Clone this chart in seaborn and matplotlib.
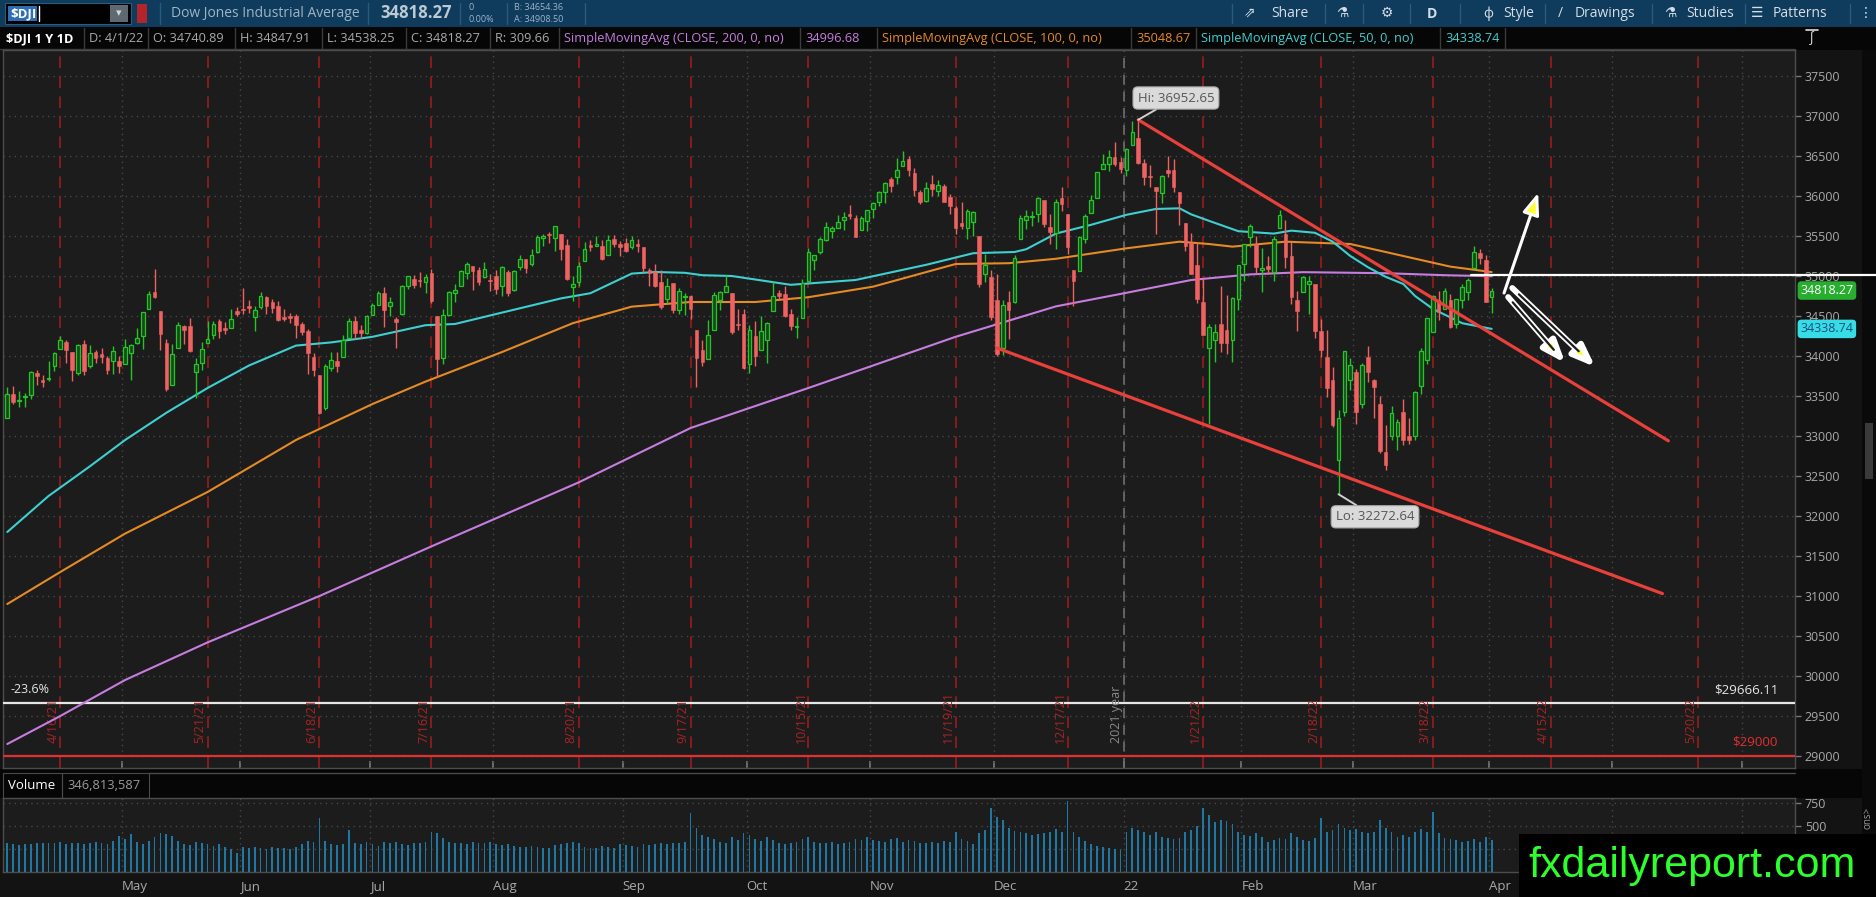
import numpy as np
import pandas as pd
import matplotlib
matplotlib.use("Agg")
import matplotlib.pyplot as plt
import seaborn as sns
from matplotlib.patches import Rectangle
from matplotlib.lines import Line2D

# ---------------------------------------------------------------- data
holidays = ["2021-05-31", "2021-07-05", "2021-09-06", "2021-11-25",
            "2021-12-24", "2022-01-17", "2022-02-21"]

opens = [
    # Apr 2021
    33222, 33531, 33440, 33484, 33514, 33787, 33706, 33708, 33870, 34082,
    34170, 34044, 33792, 34149, 33880, 34046, 34020, 33980, 33940, 33942,
    # May
    33904, 34035, 34160, 34249, 34591, 34805, 34560, 34165, 33640, 34100,
    34380, 34380, 33806, 33914, 34164, 34261, 34434, 34350, 34345, 34557,
    # Jun
    34584, 34630, 34490, 34618, 34741, 34676, 34630, 34492, 34500, 34500,
    34400, 34312, 33992, 33761, 33350, 33856, 33937, 33982, 34223, 34434,
    34321, 34291,
    # Jul
    34507, 34642, 34791, 34620, 34460, 34520, 34874, 34962, 34950, 34930,
    35038, 34505, 33980, 34518, 34783, 34880, 35040, 35131, 35080, 34982,
    34941,
    # Aug
    35000, 34880, 35050, 34830, 35118, 35207, 35144, 35302, 35475, 35530,
    35470, 35520, 35390, 34862, 34920, 35190, 35388, 35376, 35370, 35262,
    35460, 35403,
    # Sep
    35412, 35360, 35400, 35367, 35075, 35050, 34930, 34713, 34914, 34573,
    34741, 34751, 34321, 34074, 33961, 34321, 34700, 34806, 34793, 34394,
    34525,
    # Oct
    33900, 34251, 34076, 34200, 34560, 34791, 34770, 34530, 34367, 34480,
    34942, 35206, 35305, 35455, 35559, 35604, 35700, 35781, 35720, 35580,
    35692,
    # Nov
    35833, 35924, 36053, 36209, 36242, 36378, 36464, 36287, 36050, 35941,
    36146, 36060, 36122, 35984, 35850, 35661, 35601, 35675, 35494, 35030,
    34991,
    # Dec
    34703, 34098, 34680, 34671, 35458, 35701, 35740, 35777, 35948, 35616,
    35536, 35976, 35777, 35071, 35057, 35459, 35791, 35978, 36337, 36398,
    36487, 36422,
    # Jan 2022
    36321, 36636, 36722, 36409, 36249, 36114, 36040, 36324, 36320, 36046,
    35658, 35412, 35132, 34680, 34100, 34200, 34400, 34320, 34200, 34716,
    # Feb
    35150, 35486, 35400, 35080, 35120, 35049, 35600, 35520, 35250, 34700,
    34800, 34900, 34900, 34315, 33993, 33700, 32700, 33300, 33700,
    # Mar
    33800, 33400, 33990, 33700, 33400, 32800, 33000, 33000, 33300, 33000,
    33000, 33625, 33950, 34300, 34700, 34590, 34700, 34400, 34700, 34800,
    35100, 35290, 35200,
    # Apr 1
    34740.89,
]

highs = [
    33617, 33627, 33561, 33540, 33810, 33823, 33761, 33935, 34052, 34256,
    34200, 34044, 34147, 34195, 34133, 34072, 34105, 34000, 34129, 33994,
    34209, 34150, 34355, 34556, 34811, 35091, 34560, 34207, 34146, 34430,
    34383, 34470, 33974, 34180, 34432, 34442, 34468, 34420, 34589, 34609,
    34849, 34703, 34624, 34795, 34752, 34713, 34682, 34583, 34535, 34521,
    34419, 34340, 34032, 33761, 33897, 34044, 34047, 34264, 34469, 34505,
    34388, 34508,
    34660, 34811, 34859, 34738, 34489, 34890, 35006, 35016, 35055, 35023,
    35093, 34505, 34590, 34808, 34897, 35080, 35171, 35131, 35112, 35171,
    35022,
    35073, 35128, 35069, 35071, 35262, 35207, 35336, 35511, 35529, 35546,
    35631, 35523, 35458, 35003, 35180, 35420, 35450, 35500, 35453, 35509,
    35510, 35434,
    35469, 35506, 35465, 35367, 35100, 35150, 35076, 34977, 34914, 34845,
    34785, 34760, 34321, 34197, 34449, 34800, 34817, 35017, 34793, 34584,
    34592,
    34383, 34440, 34496, 34429, 34922, 34829, 34879, 34592, 34492, 34961,
    35349, 35263, 35485, 35669, 35627, 35765, 35798, 35892, 35768, 35748,
    35822,
    35931, 36062, 36171, 36237, 36471, 36565, 36495, 36347, 36080, 36178,
    36265, 36204, 36146, 36022, 35874, 35930, 35837, 35813, 35494, 35277,
    35075,
    35020, 34697, 34812, 35262, 35765, 35819, 35814, 35982, 35948, 35769,
    35958, 36114, 35777, 35071, 35501, 35776, 36010, 36305, 36528, 36571,
    36679, 36484,
    36595, 36934, 36952.65, 36464, 36383, 36114, 36262, 36503, 36462, 36046,
    35658, 35540, 35419, 34957, 34400, 34400, 34876, 34764, 34738, 35135,
    35405, 35655, 35500, 35347, 35250, 35500, 35824, 35706, 35430, 34818,
    35000, 35000, 34900, 34460, 34322, 33865, 33321, 34062, 33976,
    33843, 33913, 34120, 33713, 33500, 33137, 33370, 33212, 33465, 33230,
    33560, 34100, 34481, 34760, 34818, 34853, 34770, 34710, 34900, 34970,
    35372, 35340, 35259,
    34847.91,
]

lows = [
    33222, 33394, 33357, 33366, 33461, 33643, 33616, 33691, 33810, 34082,
    33907, 33683, 33758, 33762, 33850, 33917, 33910, 33771, 33771, 33788,
    33904, 33700, 34155, 34086, 34591, 34720, 34074, 33567, 33640, 34100,
    34150, 34046, 33473, 33820, 34164, 34212, 34230, 34274, 34345, 34504,
    34526, 34535, 34316, 34590, 34529, 34541, 34440, 34443, 34409, 34230,
    34259, 33772, 33745, 33272, 33330, 33813, 33802, 33982, 34223, 34208,
    34226, 34279,
    34507, 34642, 34367, 34500, 34103, 34515, 34832, 34854, 34867, 34782,
    34665, 33741, 33900, 34516, 34680, 34880, 34963, 34825, 34883, 34970,
    34812,
    34777, 34750, 34749, 34807, 35070, 35037, 35127, 35284, 35371, 35412,
    35315, 35206, 34953, 34690, 34879, 35185, 35318, 35370, 35200, 35262,
    35365, 35254,
    35300, 35340, 35300, 35046, 34878, 34868, 34592, 34666, 34540, 34528,
    34507, 34459, 33614, 33880, 33961, 34321, 34581, 34806, 34269, 34321,
    33842,
    33786, 33878, 34076, 33908, 34560, 34700, 34482, 34319, 34226, 34480,
    34942, 35070, 35280, 35435, 35479, 35604, 35573, 35715, 35490, 35571,
    35557,
    35728, 35870, 35913, 36051, 36150, 36378, 36254, 36006, 35905, 35930,
    36000, 36004, 35921, 35774, 35531, 35586, 35468, 35494, 34859, 34927,
    34445,
    34006, 34016, 34207, 34657, 35458, 35582, 35620, 35677, 35612, 35406,
    35336, 35818, 35275, 34620, 35057, 35414, 35791, 35978, 36335, 36316,
    36381, 36290,
    36246, 36636, 36400, 36133, 36111, 35520, 35917, 36240, 36056, 35634,
    35315, 35028, 34660, 34264, 33150, 33920, 34050, 34020, 33930, 34577,
    34932, 35359, 35034, 34800, 35020, 34939, 35600, 35096, 34648, 34317,
    34794, 34519, 34231, 33993, 33486, 33107, 32272.64, 33250, 33578,
    33150, 33355, 33675, 33224, 32787, 32578, 32950, 32829, 32890, 32900,
    32950, 33530, 33900, 34295, 34445, 34590, 34350, 34350, 34600, 34700,
    35100, 35150, 34675,
    34538.25,
]

closes = [
    33527, 33430, 33446, 33503, 33800, 33745, 33677, 33730, 34035, 34200,
    34077, 33821, 34137, 33815, 34043, 33981, 33984, 33820, 34060, 33875,
    34113, 34133, 34230, 34548, 34778, 34743, 34270, 33587, 34021, 34382,
    34327, 34060, 33896, 34084, 34208, 34394, 34313, 34323, 34465, 34529,
    34575, 34600, 34577, 34756, 34630, 34599, 34447, 34466, 34480, 34393,
    34299, 34033, 33823, 33290, 33876, 33945, 33874, 34196, 34433, 34283,
    34292, 34502,
    34633, 34786, 34577, 34681, 34421, 34870, 34996, 34889, 34933, 34987,
    34687, 33962, 34512, 34798, 34823, 35061, 35144, 35058, 34931, 35085,
    34935,
    34838, 35117, 34793, 35064, 35209, 35102, 35265, 35485, 35500, 35516,
    35625, 35343, 34961, 34894, 35120, 35336, 35367, 35406, 35214, 35456,
    35400, 35361,
    35313, 35444, 35369, 35100, 35032, 34879, 34608, 34870, 34578, 34814,
    34751, 34585, 33970, 33919, 34258, 34765, 34798, 34870, 34300, 34391,
    33844,
    34326, 34003, 34315, 34417, 34755, 34746, 34496, 34378, 34377, 34912,
    35295, 35259, 35458, 35609, 35603, 35677, 35741, 35756, 35491, 35731,
    35820,
    35913, 36053, 36158, 36124, 36328, 36432, 36320, 36080, 35921, 36100,
    36087, 36143, 35931, 35871, 35602, 35619, 35814, 35804, 34899, 35136,
    34484,
    34022, 34640, 34580, 35227, 35719, 35754, 35755, 35971, 35651, 35545,
    35927, 35898, 35365, 34932, 35493, 35754, 35950, 36302, 36398, 36488,
    36398, 36338,
    36585, 36800, 36408, 36236, 36232, 36068, 36252, 36290, 36114, 35912,
    35369, 35029, 34715, 34265, 34365, 34298, 34168, 34160, 34725, 35132,
    35405, 35629, 35111, 35090, 35092, 35463, 35768, 35241, 34738, 34566,
    34989, 34935, 34312, 34079, 33597, 33132, 33224, 34059, 33893,
    33295, 33891, 33795, 33615, 32818, 32633, 33286, 33174, 32944, 32945,
    33545, 34063, 34481, 34755, 34553, 34808, 34358, 34708, 34862, 34955,
    35294, 35229, 34678,
    34818.27,
]

volumes_m = [
    310, 300, 295, 300, 305, 310, 315, 310, 320, 330, 300, 320, 315, 300, 320, 330, 310, 300, 340, 390,
    360, 410, 330, 300, 340, 380, 420, 410, 390, 340, 300, 290, 330, 320, 300, 280, 300, 270, 250, 210,
    270, 260, 275, 260, 250, 270, 265, 260, 255, 270, 300, 340, 330, 590, 340, 300, 290, 300, 460, 310, 300, 330,
    300, 280, 330, 320, 330, 300, 290, 320, 310, 330, 440, 420, 370, 330, 310, 320, 300, 330, 310, 320, 330,
    300, 290, 300, 280, 270, 275, 285, 270, 265, 260, 290, 300, 320, 330, 310, 270, 265, 260, 280, 270, 265, 300,
    290, 280, 270, 300, 290, 300, 310, 300, 320, 310, 330, 640, 480, 400, 380, 360, 330, 310, 380, 350, 420,
    400, 360, 340, 380, 350, 310, 300, 320, 330, 360, 380, 330, 320, 310, 330, 300, 310, 330, 360, 350, 380,
    350, 340, 330, 360, 370, 330, 350, 340, 310, 320, 330, 320, 340, 330, 430, 360, 340, 300, 420, 460, 690,
    600, 560, 480, 450, 440, 420, 400, 410, 420, 440, 470, 430, 770, 440, 380, 340, 300, 280, 270, 260, 250, 240,
    430, 480, 460, 440, 400, 430, 380, 370, 360, 370, 430, 460, 500, 690, 620, 540, 560, 550, 520, 430,
    400, 390, 420, 380, 330, 350, 370, 360, 420, 380, 350, 340, 370, 590, 440, 460, 520, 480, 460,
    470, 440, 420, 440, 560, 480, 430, 380, 400, 380, 430, 470, 430, 650, 420, 370, 360, 350, 330, 340, 360, 330, 380,
    346.8,
]

# moving averages (session number -> value)
ma200_days = [1, 10, 21, 35, 54, 73, 98, 117, 137, 162, 179, 191, 202, 212, 221, 235, 245, 253]
ma200_vals = [29150, 29500, 29950, 30420, 31000, 31620, 32420, 33100, 33600, 34240, 34620,
              34790, 34950, 35020, 35048, 35035, 35010, 34997]
ma100_days = [1, 10, 21, 35, 50, 63, 72, 85, 97, 107, 117, 128, 137, 148, 162, 171, 179, 191,
              200, 205, 209, 218, 229, 241, 246, 253]
ma100_vals = [30900, 31300, 31780, 32300, 32950, 33400, 33680, 34050, 34410, 34617, 34675,
              34675, 34735, 34867, 35150, 35160, 35215, 35346, 35429, 35400, 35367, 35429,
              35400, 35200, 35117, 35049]
ma50_days = [1, 8, 15, 21, 28, 35, 42, 50, 56, 63, 72, 77, 84, 95, 100, 107, 111, 116, 119, 124,
             134, 145, 157, 165, 172, 174, 179, 185, 191, 196, 200, 202, 205, 210, 216, 219, 223,
             226, 229, 232, 235, 238, 240, 243, 248, 253]
ma50_vals = [31800, 32250, 32620, 32950, 33290, 33600, 33880, 34130, 34170, 34240, 34385, 34400,
             34525, 34720, 34785, 35030, 35050, 35040, 35010, 35000, 34890, 34950, 35140, 35285,
             35300, 35335, 35530, 35640, 35765, 35838, 35846, 35770, 35690, 35560, 35530, 35567,
             35540, 35430, 35250, 35110, 34990, 34900, 34750, 34590, 34410, 34339]

opex_dates = ["2021-04-16", "2021-05-21", "2021-06-18", "2021-07-16", "2021-08-20",
              "2021-09-17", "2021-10-15", "2021-11-19", "2021-12-17", "2022-01-21",
              "2022-02-18", "2022-03-18", "2022-04-15", "2022-05-20"]
month_starts = ["2021-05-01", "2021-06-01", "2021-07-01", "2021-08-01", "2021-09-01",
                "2021-10-01", "2021-11-01", "2021-12-01", "2022-01-01", "2022-02-01",
                "2022-03-01", "2022-04-01", "2022-05-01", "2022-06-01"]
# the last two months sit under the watermark in the original, so no visible label
month_labels = ["May", "Jun", "Jul", "Aug", "Sep", "Oct", "Nov", "Dec", "22", "Feb", "Mar",
                "Apr", "", ""]

upper_trend_days = [193, 283]
upper_trend_vals = [36952.65, 32940]
lower_trend_days = [169, 282]
lower_trend_vals = [34100, 31030]
fib_level, fib_label = 29666.11, "-23.6%"
support_level = 29000
pivot_level = 35010
arrow_up = [(255.1, 34787), (260.9, 36040)]
arrow_dn1 = [(255.8, 34737), (265.5, 33912)]
arrow_dn2 = [(256.5, 34850), (270.6, 33862)]

# ---------------------------------------------------------------- sessions
sessions = pd.bdate_range("2021-04-05", "2022-04-01")
sessions = sessions[~sessions.isin(pd.to_datetime(holidays))]
last = sessions[-1]


def pos_of(d):
    d = pd.Timestamp(d)
    if d <= last:
        return int(np.searchsorted(sessions, d)) + 1
    d = pd.bdate_range(d, periods=1)[0]
    return len(sessions) + len(pd.bdate_range(last + pd.Timedelta(days=1), d))


n = min(len(opens), len(highs), len(lows), len(closes), len(volumes_m), len(sessions))
o = np.array(opens[:n], float)
h = np.array(highs[:n], float)
l = np.array(lows[:n], float)
c = np.array(closes[:n], float)
v = np.array(volumes_m[:n], float)
xi = np.arange(1, n + 1)

# ---------------------------------------------------------------- style
sns.set_theme(style="dark")
plt.rcParams["font.family"] = ["Open Sans", "DejaVu Sans"]
plt.rcParams["axes.unicode_minus"] = False

W, H = 1876, 897
BG = "#1c1c1c"
fig = plt.figure(figsize=(W / 100, H / 100), dpi=100, facecolor="#131313")


def fx(x):
    return x / W


def fy(y):
    return 1 - y / H


def frect(x0, y0, x1, y1, fc, ec="none", lw=0, z=-5):
    fig.add_artist(Rectangle((fx(x0), fy(y1)), (x1 - x0) / W, (y1 - y0) / H,
                             transform=fig.transFigure, facecolor=fc, edgecolor=ec,
                             linewidth=lw, zorder=z))


def fline(x0, y0, x1, y1, color, lw=1.0, z=-4):
    fig.add_artist(Line2D([fx(x0), fx(x1)], [fy(y0), fy(y1)], transform=fig.transFigure,
                          color=color, lw=lw, zorder=z))


def ftext(x, y, s, **kw):
    kw.setdefault("va", "center")
    kw.setdefault("zorder", 6)
    return fig.text(fx(x), fy(y), s, **kw)


# ---------------------------------------------------------------- header bars
frect(0, 0, W, 27, "#0f3b5c")
frect(0, 27, W, 50, "#060606")
frect(5, 3, 131, 24, "#000000", ec="#2c5b7c", lw=0.8, z=-3)
frect(8, 6, 37, 21, "#2f6db4", z=-2)
ftext(10, 13.5, "$DJI", color="white", fontsize=9.5, fontweight="bold")
fline(38.5, 6, 38.5, 21, "white", lw=1, z=-1)
frect(110, 5, 128, 22, "#5f6972", z=-2)
ftext(119, 13.5, "▾", color="#cfd6dc", fontsize=8, ha="center")
frect(137, 4, 147, 23, "#b3242b", z=-2)
for sx in [160, 368, 460, 507, 585]:
    fline(sx, 3, sx, 24, "#2b5a7c")
ftext(171, 13.5, "Dow Jones Industrial Average", color="#9fb4c7", fontsize=10)
ftext(380, 13.5, "34818.27", color="#bccad6", fontsize=12, fontweight="bold")
ftext(468, 8, "0", color="#9fb4c7", fontsize=6.5)
ftext(468, 19, "0.00%", color="#9fb4c7", fontsize=6.5)
ftext(514, 8, "B: 34654.36", color="#9fb4c7", fontsize=6.5)
ftext(514, 19, "A: 34908.50", color="#9fb4c7", fontsize=6.5)

tb = "#d4dee7"
toolbar = [(1250, "⇗", 1271, "Share"), (1342, "⚗", None, None), (1387, "⚙", None, None),
           (1432, "D", None, None), (1488, "ф", 1503, "Style"), (1560, "/", 1575, "Drawings"),
           (1670, "⚗", 1686, "Studies"), (1757, "☰", 1773, "Patterns"), (1866, "⋮", None, None)]
for ix, icon, tx, label in toolbar:
    ftext(ix, 13.5, icon, color=tb, fontsize=10, ha="center",
          fontweight="bold" if icon == "D" else "normal")
    if label:
        ftext(tx, 13.5, label, color=tb, fontsize=10)
for sx in [1232, 1325, 1363, 1410, 1460, 1545, 1652, 1745, 1850]:
    fline(sx, 4, sx, 23, "#2b5a7c")

GRAY = "#a9a9a9"
VIOLET, ORANGE, CYAN = "#c77ddf", "#e58a25", "#3fcfd0"
info = [("$DJI 1 Y 1D", 6, "white", "bold"), ("D: 4/1/22", 89, GRAY, "normal"),
        ("O: 34740.89", 153, GRAY, "normal"), ("H: 34847.91", 240, GRAY, "normal"),
        ("L: 34538.25", 327, GRAY, "normal"), ("C: 34818.27", 411, GRAY, "normal"),
        ("R: 309.66", 495, GRAY, "normal"),
        ("SimpleMovingAvg (CLOSE, 200, 0, no)", 564, VIOLET, "normal"),
        ("34996.68", 805, VIOLET, "normal"),
        ("SimpleMovingAvg (CLOSE, 100, 0, no)", 882, ORANGE, "normal"),
        ("35048.67", 1136, ORANGE, "normal"),
        ("SimpleMovingAvg (CLOSE, 50, 0, no)", 1201, CYAN, "normal"),
        ("34338.74", 1445, CYAN, "normal")]
for s, x0, col, wt in info:
    ftext(x0, 38.5, s, color=col, fontsize=9.2, fontweight=wt)
    if x0 > 10:
        fline(x0 - 5, 28, x0 - 5, 49, "#3b3b3b")
fline(1505, 28, 1505, 49, "#3b3b3b")
fline(0, 49.5, 1795, 49.5, "#3b3b3b")
ftext(1812, 38.5, "∫", color="#dddddd", fontsize=10, ha="center")
fline(1806, 30, 1818, 30, "#dddddd", lw=1.2)

# right strip / scrollbar
frect(1862, 50, W, 834, "#0a0a0a", z=-4)
frect(1865, 423, 1873, 479, "#3a3a3a", z=-3)
ftext(1868, 818, "ons>", color="#9a9a9a", fontsize=7, rotation=90, ha="center")

# volume header row
frect(0, 769, W, 798, "#060606")
frect(3, 773, 62, 798, "none", ec="#4a4a4a", lw=0.8, z=-3)
frect(62, 773, 149, 798, "none", ec="#4a4a4a", lw=0.8, z=-3)
fline(149, 773, 1795, 773, "#4a4a4a")
ftext(8, 785.5, "Volume", color="white", fontsize=9.5)
ftext(67, 785.5, "346,813,587", color="#9a9a9a", fontsize=9.3)

# ---------------------------------------------------------------- price panel
ax = fig.add_axes([fx(3), fy(768), (1795 - 3) / W, (768 - 50) / H])
axv = fig.add_axes([fx(3), fy(872), (1795 - 3) / W, (872 - 798) / H])
XL = (0.27, 304.5)
YL = (28850, 37825)
for a in (ax, axv):
    a.set_facecolor(BG)
    a.grid(False)
    for sp in a.spines.values():
        sp.set_color("#4d4d4d")
        sp.set_linewidth(1)
    a.set_xlim(*XL)

ax.set_ylim(*YL)
month_pos = [pos_of(d) - 0.5 for d in month_starts]
price_grid = np.arange(29000, 37501, 500)
dot = (0, (1, 3))
ax.hlines(price_grid, XL[0], XL[1], colors="#474747", linestyles=dot, lw=1, zorder=1)
ax.vlines(month_pos, YL[0], YL[1], colors="#474747", linestyles=dot, lw=1, zorder=1)

# option expiration lines
for d in opex_dates:
    p = pos_of(d)
    ts = pd.Timestamp(d)
    ax.axvline(p, color="#981d1d", ls=(0, (7, 5)), lw=1.2, zorder=1.5)
    ax.text(p - 0.15, 29160, f"{ts.month}/{ts.day}/{ts.strftime('%y')}", rotation=90,
            ha="right", va="bottom", color="#a82424", fontsize=9, zorder=3.5)
year_pos = pos_of("2022-01-01") - 0.5
ax.axvline(year_pos, color="#6e6e6e", ls=(0, (6, 4)), lw=1.2, zorder=1.5)
ax.text(year_pos - 0.15, 29160, "2021 year", rotation=90, ha="right", va="bottom",
        color="#8a8a8a", fontsize=9, zorder=3.5)

# fib / support lines
ax.axhline(fib_level, color="#e6e6e6", lw=1.6, zorder=3)
ax.axhline(support_level, color="#e23030", lw=1.6, zorder=3)
ytr = ax.get_yaxis_transform()
ax.text(0.004, fib_level + 160, fib_label, transform=ytr, color="#e6e6e6", fontsize=9,
        ha="left", va="center", zorder=3)
ax.text(0.9905, fib_level + 160, f"${fib_level:,.2f}".replace(",", ""), transform=ytr,
        color="#e6e6e6", fontsize=9.5, ha="right", va="center", zorder=3)
ax.text(0.9905, support_level + 175, f"${support_level}", transform=ytr, color="#e23030",
        fontsize=9.5, ha="right", va="center", zorder=3)

# moving averages (seaborn)
for days, vals, col in [(ma200_days, ma200_vals, VIOLET), (ma100_days, ma100_vals, ORANGE),
                        (ma50_days, ma50_vals, CYAN)]:
    sns.lineplot(x=days, y=vals, ax=ax, color=col, linewidth=1.5, estimator=None,
                 sort=False, legend=False, zorder=5)

# candles
UP_E, UP_F, DN = "#25c52a", "#174a1a", "#f06262"
up = c >= o
body_lo = np.minimum(o, c)
body_h = np.maximum(np.abs(c - o), 14)
ax.vlines(xi[up], l[up], h[up], color=UP_E, lw=1, zorder=6)
ax.vlines(xi[~up], l[~up], h[~up], color=DN, lw=1, zorder=6)
ax.bar(xi[up], body_h[up], bottom=body_lo[up], width=0.62, color=UP_F, edgecolor=UP_E,
       linewidth=0.9, zorder=7)
ax.bar(xi[~up], body_h[~up], bottom=body_lo[~up], width=0.62, color=DN, edgecolor=DN,
       linewidth=0.4, zorder=7)

# trend channel
ax.plot(upper_trend_days, upper_trend_vals, color="#e8403b", lw=2.3, zorder=8,
        solid_capstyle="round")
ax.plot(lower_trend_days, lower_trend_vals, color="#e8403b", lw=2.3, zorder=8,
        solid_capstyle="round")

# pivot level line running into the axis
ax.plot([pos_of("2022-03-30") - 1.5, 318.5], [pivot_level, pivot_level], color="white",
        lw=1.6, zorder=12, clip_on=False)

# Hi / Lo callouts
hi_i = int(np.argmax(h))
lo_i = int(np.argmin(l))
ax.annotate(f"Hi: {h[hi_i]:.2f}", xy=(xi[hi_i], h[hi_i]), xytext=(199.4, 37225),
            ha="center", va="center", fontsize=9.5, color="#555555", zorder=11,
            bbox=dict(boxstyle="round,pad=0.35", fc="#dadada", ec="#a8a8a8", lw=0.8),
            arrowprops=dict(arrowstyle="-", color="#d0d0d0", lw=1.4, shrinkA=0, shrinkB=0))
ax.annotate(f"Lo: {l[lo_i]:.2f}", xy=(xi[lo_i], l[lo_i]), xytext=(233.2, 31990),
            ha="center", va="center", fontsize=9.5, color="#555555", zorder=11,
            bbox=dict(boxstyle="round,pad=0.35", fc="#dadada", ec="#a8a8a8", lw=0.8),
            arrowprops=dict(arrowstyle="-", color="#d0d0d0", lw=1.4, shrinkA=0, shrinkB=0))

# projection arrows
head = "-|>,head_length=1.1,head_width=0.42"
ax.annotate("", xy=arrow_up[1], xytext=arrow_up[0], zorder=12,
            arrowprops=dict(arrowstyle=head, fc="#ffff30", ec="white", lw=2.2,
                            shrinkA=0, shrinkB=0))
for arr in (arrow_dn1, arrow_dn2):
    ax.annotate("", xy=arr[1], xytext=arr[0], zorder=12,
                arrowprops=dict(arrowstyle=head, fc="#ffff30", ec="white", lw=4.2,
                                shrinkA=0, shrinkB=0))
    (x0, y0), (x1, y1) = arr
    ax.plot([x0 + 0.08 * (x1 - x0), x0 + 0.80 * (x1 - x0)],
            [y0 + 0.08 * (y1 - y0), y0 + 0.80 * (y1 - y0)], color=BG, lw=1.6, zorder=12.5)

# axis ticks / labels
ax.set_yticks(price_grid)
ax.set_yticklabels([str(int(p)) for p in price_grid])
ax.yaxis.tick_right()
ax.tick_params(axis="y", right=True, left=False, labelright=True, labelleft=False,
               color="#777777", labelcolor="#a9a9a9", labelsize=9, length=4, width=1, pad=3)
ax.set_xticks(month_pos)
ax.set_xticklabels([])
ax.tick_params(axis="x", bottom=True, direction="in", length=5, color="#777777")
ax.set_xlabel("")
ax.set_ylabel("")

# price tags
ax.text(1.003, c[-1], f"{c[-1]:.2f}", transform=ytr, ha="left", va="center", fontsize=9,
        color="white", zorder=13, clip_on=False,
        bbox=dict(boxstyle="round,pad=0.22,rounding_size=0.3", fc="#27ae2f", ec="none"))
ax.text(1.003, ma50_vals[-1] - 0.26, "34338.74", transform=ytr, ha="left", va="center",
        fontsize=9, color="#1b4f7c", zorder=13, clip_on=False,
        bbox=dict(boxstyle="round,pad=0.22,rounding_size=0.3", fc="#36dde6", ec="none"))

# ---------------------------------------------------------------- volume panel
axv.set_ylim(0, 804)
axv.bar(xi, v, width=0.3, color="#1f78a3", linewidth=0, zorder=3)
axv.hlines([250, 500, 750], XL[0], XL[1], colors="#474747", linestyles=dot, lw=1, zorder=1)
axv.vlines(month_pos, 0, 804, colors="#474747", linestyles=dot, lw=1, zorder=1)
axv.set_yticks([250, 500, 750])
# the 250 label is hidden beneath the watermark in the original
axv.set_yticklabels(["", "500", "750"])
axv.yaxis.tick_right()
axv.tick_params(axis="y", right=True, left=False, labelright=True, labelleft=False,
                color="#777777", labelcolor="#a9a9a9", labelsize=9, length=4, width=1, pad=3)
axv.set_xticks(month_pos)
axv.set_xticklabels(month_labels)
for t in axv.get_xticklabels():
    t.set_ha("left")
axv.tick_params(axis="x", length=0, pad=6, labelcolor="#a9a9a9", labelsize=9.5)
axv.set_xlabel("")
axv.set_ylabel("")

# ---------------------------------------------------------------- watermark
frect(1519, 834, W, H, "#000000", z=8)
ftext(1692, 866, "fxdailyreport.com", ha="center", color="#2cff2c", fontsize=31,
      family=["Liberation Sans", "DejaVu Sans"], zorder=9)

fig.savefig("out.png", dpi=100, facecolor=fig.get_facecolor())
